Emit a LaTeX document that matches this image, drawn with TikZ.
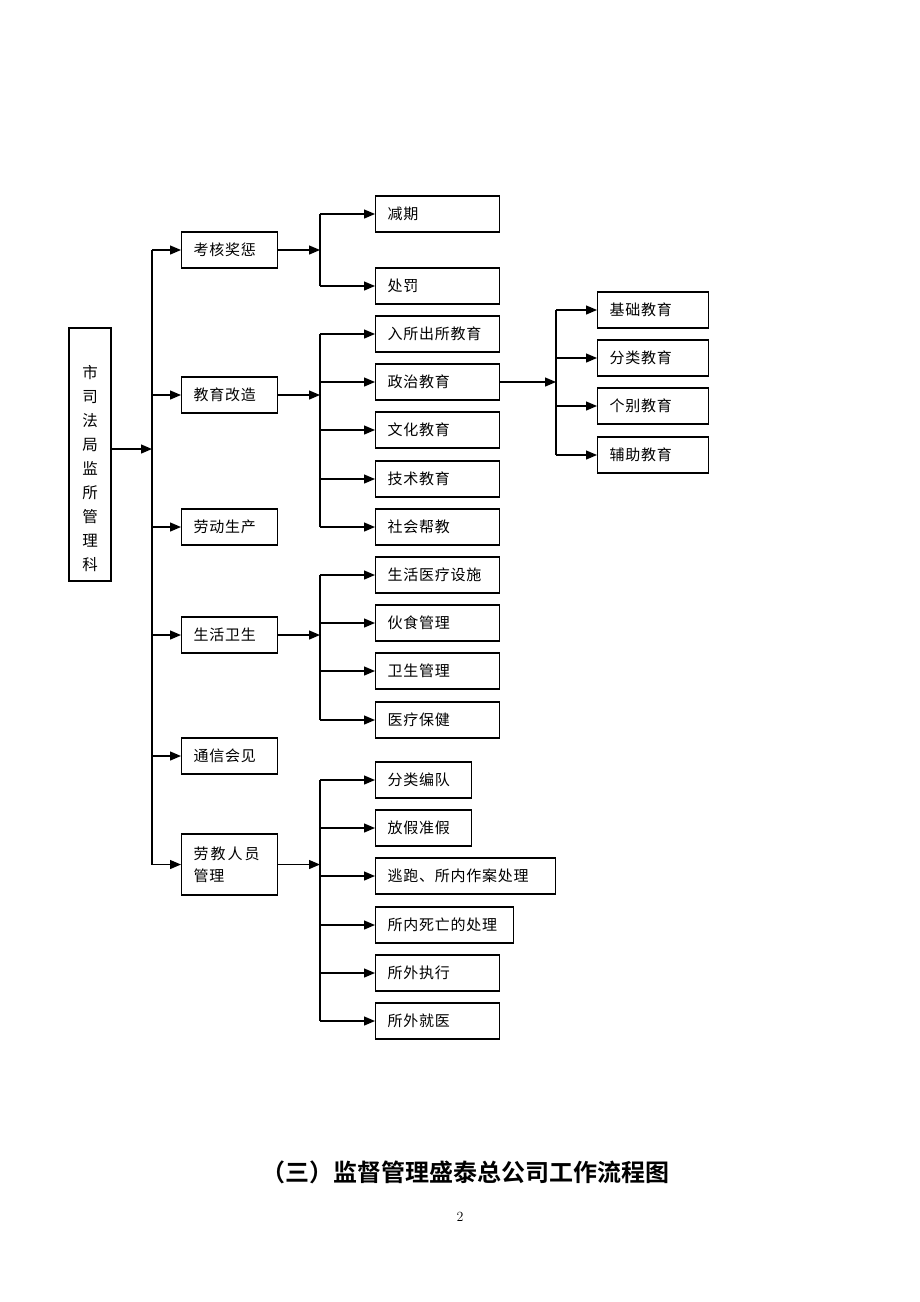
\documentclass[tikz,border=0pt]{standalone}
\usepackage{fontspec}
\newfontfamily\cjk[LetterSpace=5]{Noto Sans CJK SC}
\newfontfamily\cjktitle{Noto Sans CJK SC Bold}
\usetikzlibrary{arrows.meta}

\tikzset{every picture/.style={line width=1.2pt}}

\begin{document}
\begin{tikzpicture}[x=1pt,y=1pt,yscale=-1,xscale=1,
	box/.style={draw, line width=1.1pt, minimum height=36pt, inner xsep=12pt, inner ysep=0pt, align=left, anchor=west, font=\cjk\fontsize{15}{22}\selectfont},
	arr/.style={line width=1.3pt, -{Triangle[length=11pt,width=9pt]}},
	lin/.style={line width=1.3pt}]
	\useasboundingbox (0,0) rectangle (920,1302);

	% root box
	\node[draw, line width=1.1pt, minimum width=42pt, minimum height=253pt, inner sep=0pt, align=center, font=\cjk\fontsize{15.5}{24}\selectfont] (root) at (90,454.5) {\strut\\市\\司\\法\\局\\监\\所\\管\\理\\科};

	% first level
	\node[box, text width=72pt] (khjc) at (181,250) {考核奖惩};
	\node[box, text width=72pt] (jygz) at (181,395) {教育改造};
	\node[box, text width=72pt] (ldsc) at (181,527) {劳动生产};
	\node[box, text width=72pt] (shws) at (181,635) {生活卫生};
	\node[box, text width=72pt] (txhj) at (181,756) {通信会见};
	\node[box, text width=72pt, minimum height=61pt] (ljgl) at (181,864.5) {劳\hspace{2pt}教\hspace{2pt}人\hspace{2pt}员\\管理};

	% second level
	\node[box, text width=100pt] (jq) at (375,214) {减期};
	\node[box, text width=100pt] (cf) at (375,286) {处罚};
	\node[box, text width=100pt] (rscs) at (375,334) {入所出所教育};
	\node[box, text width=100pt] (zzjy) at (375,382) {政治教育};
	\node[box, text width=100pt] (whjy) at (375,430) {文化教育};
	\node[box, text width=100pt] (jsjy) at (375,479) {技术教育};
	\node[box, text width=100pt] (shbj) at (375,527) {社会帮教};
	\node[box, text width=100pt] (shyl) at (375,575) {生活医疗设施};
	\node[box, text width=100pt] (hsgl) at (375,623) {伙食管理};
	\node[box, text width=100pt] (wsgl) at (375,671) {卫生管理};
	\node[box, text width=100pt] (ylbj) at (375,720) {医疗保健};
	\node[box, text width=72pt] (flbd) at (375,780) {分类编队};
	\node[box, text width=72pt] (fjzj) at (375,828) {放假准假};
	\node[box, text width=156pt] (tpcl) at (375,876) {逃跑、所内作案处理};
	\node[box, text width=114pt] (swcl) at (375,925) {所内死亡的处理};
	\node[box, text width=100pt] (swzx) at (375,973) {所外执行};
	\node[box, text width=100pt] (swjy) at (375,1021) {所外就医};

	% third level
	\node[box, text width=87pt] (jcjy) at (597,310) {基础教育};
	\node[box, text width=87pt] (fljy) at (597,358) {分类教育};
	\node[box, text width=87pt] (gbjy) at (597,406) {个别教育};
	\node[box, text width=87pt] (fzjy) at (597,455) {辅助教育};

	% branch points
	\coordinate (trunk) at (152,449);
	\coordinate (b1) at (320,0);
	\coordinate (b3) at (556,0);

	% root to first level
	\draw[arr] (root.east |- trunk) -- (trunk);
	\draw[lin] (trunk |- khjc.west) -- (trunk |- ljgl.west);
	\draw[arr] (trunk |- khjc.west) -- (khjc.west);
	\draw[arr] (trunk |- jygz.west) -- (jygz.west);
	\draw[arr] (trunk |- ldsc.west) -- (ldsc.west);
	\draw[arr] (trunk |- shws.west) -- (shws.west);
	\draw[arr] (trunk |- txhj.west) -- (txhj.west);
	\draw[arr] (trunk |- ljgl.west) -- (ljgl.west);

	% kaohe jiangcheng
	\draw[arr] (khjc.east) -- (b1 |- khjc.east);
	\draw[lin] (b1 |- jq.west) -- (b1 |- cf.west);
	\draw[arr] (b1 |- jq.west) -- (jq.west);
	\draw[arr] (b1 |- cf.west) -- (cf.west);

	% jiaoyu gaizao
	\draw[arr] (jygz.east) -- (b1 |- jygz.east);
	\draw[lin] (b1 |- rscs.west) -- (b1 |- shbj.west);
	\draw[arr] (b1 |- rscs.west) -- (rscs.west);
	\draw[arr] (b1 |- zzjy.west) -- (zzjy.west);
	\draw[arr] (b1 |- whjy.west) -- (whjy.west);
	\draw[arr] (b1 |- jsjy.west) -- (jsjy.west);
	\draw[arr] (b1 |- shbj.west) -- (shbj.west);

	% zhengzhi jiaoyu
	\draw[arr] (zzjy.east) -- (b3 |- zzjy.east);
	\draw[lin] (b3 |- jcjy.west) -- (b3 |- fzjy.west);
	\draw[arr] (b3 |- jcjy.west) -- (jcjy.west);
	\draw[arr] (b3 |- fljy.west) -- (fljy.west);
	\draw[arr] (b3 |- gbjy.west) -- (gbjy.west);
	\draw[arr] (b3 |- fzjy.west) -- (fzjy.west);

	% shenghuo weisheng
	\draw[arr] (shws.east) -- (b1 |- shws.east);
	\draw[lin] (b1 |- shyl.west) -- (b1 |- ylbj.west);
	\draw[arr] (b1 |- shyl.west) -- (shyl.west);
	\draw[arr] (b1 |- hsgl.west) -- (hsgl.west);
	\draw[arr] (b1 |- wsgl.west) -- (wsgl.west);
	\draw[arr] (b1 |- ylbj.west) -- (ylbj.west);

	% laojiao renyuan guanli
	\draw[arr] (ljgl.east) -- (b1 |- ljgl.east);
	\draw[lin] (b1 |- flbd.west) -- (b1 |- swjy.west);
	\draw[arr] (b1 |- flbd.west) -- (flbd.west);
	\draw[arr] (b1 |- fjzj.west) -- (fjzj.west);
	\draw[arr] (b1 |- tpcl.west) -- (tpcl.west);
	\draw[arr] (b1 |- swcl.west) -- (swcl.west);
	\draw[arr] (b1 |- swzx.west) -- (swzx.west);
	\draw[arr] (b1 |- swjy.west) -- (swjy.west);

	% Text Node
	\node[font=\cjktitle\fontsize{24}{28}\selectfont] (title) at (465,1172) {（三）监督管理盛泰总公司工作流程图};
	% Text Node
	\node[font=\fontsize{14}{16}\selectfont] (pageno) at (460,1217) {2};

\end{tikzpicture}
\end{document}
